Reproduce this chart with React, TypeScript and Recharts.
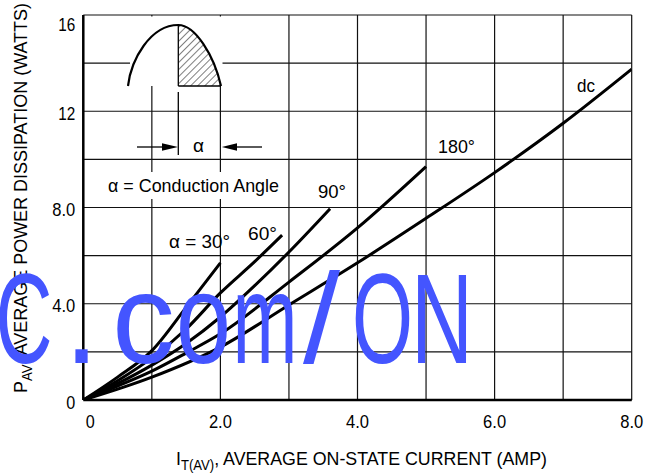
import React from "react";
import { LineChart, Line, XAxis, YAxis, CartesianGrid } from "recharts";

const xTicks = [0, 1, 2, 3, 4, 5, 6, 7, 8];
const yTicks = [0, 2, 4, 6, 8, 10, 12, 14, 16];
const xTickText: Record<number, string> = { 0: "0", 2: "2.0", 4: "4.0", 6: "6.0", 8: "8.0" };
const yTickText: Record<number, string> = { 0: "0", 4: "4.0", 8: "8.0", 12: "12", 16: "16" };

// average current (A) / average power (W)
const current30 = [0, 0.5, 1.0, 1.5, 2.0];
const power30 = [0, 0.95, 2.05, 3.85, 5.7];

const current60 = [0, 0.5, 1.0, 1.5, 2.0, 2.5, 2.9];
const power60 = [0, 0.8, 1.75, 2.95, 4.45, 5.75, 6.85];

const current90 = [0, 0.5, 1.0, 1.5, 2.0, 2.5, 3.0, 3.6];
const power90 = [0, 0.68, 1.45, 2.35, 3.45, 4.75, 6.15, 7.95];

const current180 = [0, 0.5, 1.0, 1.5, 2.0, 3.0, 4.0, 5.0];
const power180 = [0, 0.58, 1.2, 1.95, 2.75, 4.9, 7.15, 9.7];

const currentDc = [0, 1, 2, 3, 4, 5, 6, 7, 8];
const powerDc = [0, 0.95, 2.2, 3.95, 5.7, 7.55, 9.45, 11.5, 13.75];

const toPoints = (xs: number[], ys: number[]) => xs.map((x, i) => ({ current: x, power: ys[i] }));

const series = [
  { name: "30", data: toPoints(current30, power30) },
  { name: "60", data: toPoints(current60, power60) },
  { name: "90", data: toPoints(current90, power90) },
  { name: "180", data: toPoints(current180, power180) },
  { name: "dc", data: toPoints(currentDc, powerDc) },
];

// watermark glyphs: [char, centre x, squeezed width]
const markGlyphs: [string, number, number | null][] = [
  ["C", 24, 57],
  [".", 81.5, null],
  ["c", 143.5, 63],
  ["o", 203.5, 55],
  ["m", 265, 65],
  ["/", 321.5, 37],
  ["O", 382.5, 61],
  ["N", 442, 62],
];

// narrow Helvetica look: Liberation Sans squeezed with textLength
const FONT = "'Liberation Sans', Arial, sans-serif";

const tickWidth = (label: string) => (label.length === 1 ? 9 : label.length === 2 ? 17 : 23);

const XTick = ({ x, y, payload }: any) => {
  const label = xTickText[payload.value];
  if (label === undefined) return null;
  return (
    <text
      x={x + (payload.value === 0 ? 7 : 0)}
      y={y + 28}
      textAnchor="middle"
      fontSize={19}
      fontFamily={FONT}
      fill="#000"
      textLength={tickWidth(label)}
      lengthAdjust="spacingAndGlyphs"
    >
      {label}
    </text>
  );
};

const YTick = ({ x, y, payload }: any) => {
  const label = yTickText[payload.value];
  if (label === undefined) return null;
  return (
    <text
      x={x}
      y={y + 8.5 + (payload.value === 16 ? 7 : 0)}
      textAnchor="end"
      fontSize={19}
      fontFamily={FONT}
      fill="#000"
      textLength={tickWidth(label)}
      lengthAdjust="spacingAndGlyphs"
    >
      {label}
    </text>
  );
};

const Note = ({ x, y, w, children }: any) => (
  <text x={x} y={y} textAnchor="middle" fontSize={19} textLength={w} lengthAdjust="spacingAndGlyphs">
    {children}
  </text>
);

export default function App() {
  return (
    <div style={{ position: "absolute", left: 0, top: 0, width: 656, height: 475, background: "#fff" }}>
      <LineChart width={656} height={475} margin={{ top: 15, right: 24.3, bottom: 0, left: 0 }}>
        <CartesianGrid stroke="#111" strokeWidth={1.2} />
        <XAxis
          type="number"
          dataKey="current"
          domain={[0, 8]}
          ticks={xTicks}
          interval={0}
          allowDataOverflow
          height={75}
          tickSize={0}
          tickMargin={0}
          tickLine={false}
          axisLine={{ stroke: "#000", strokeWidth: 2.5 }}
          tick={<XTick />}
        />
        <YAxis
          type="number"
          dataKey="power"
          domain={[0, 16]}
          ticks={yTicks}
          interval={0}
          allowDataOverflow
          width={83.3}
          tickSize={0}
          tickMargin={8}
          tickLine={false}
          axisLine={{ stroke: "#000", strokeWidth: 2.5 }}
          tick={<YTick />}
        />
        {series.map((s) => (
          <Line
            key={s.name}
            data={s.data}
            dataKey="power"
            type="monotone"
            stroke="#000"
            strokeWidth={3}
            dot={false}
            isAnimationActive={false}
          />
        ))}
      </LineChart>

      <svg
        width={656}
        height={475}
        style={{ position: "absolute", left: 0, top: 0, pointerEvents: "none" }}
        fontFamily={FONT}
      >
        <defs>
          <pattern id="hatch" width={5} height={5} patternUnits="userSpaceOnUse" patternTransform="rotate(45)">
            <line x1={0} y1={0} x2={0} y2={5} stroke="#000" strokeWidth={1} />
          </pattern>
        </defs>

        {/* inset: conduction angle sketch */}
        <rect x={130} y={16.5} width={92.5} height={69.5} fill="#fff" />
        <path d="M178.3,25 C195,25 214,55 221,86 L178.3,86 Z" fill="url(#hatch)" />
        <path d="M128,86 C131,60 150,25 178.3,25 C195,25 214,55 221,86" fill="none" stroke="#000" strokeWidth={2.2} />
        <line x1={178.3} y1={25} x2={178.3} y2={86} stroke="#000" strokeWidth={1.3} />
        <line x1={178.3} y1={86} x2={221} y2={86} stroke="#000" strokeWidth={1.3} />
        <line x1={178.3} y1={92} x2={178.3} y2={155} stroke="#000" strokeWidth={1.3} />
        <line x1={137} y1={147} x2={165} y2={147} stroke="#000" strokeWidth={1.3} />
        <polygon points="162,143.3 178,147 162,150.7" fill="#000" />
        <line x1={236} y1={147} x2={262} y2={147} stroke="#000" strokeWidth={1.3} />
        <polygon points="237,143.3 221.8,147 237,150.7" fill="#000" />
        <Note x={198.5} y={151.7} w={11}>α</Note>

        <rect x={104} y={172} width={180} height={27} fill="#fff" />
        <Note x={193.5} y={191.7} w={171}>α = Conduction Angle</Note>

        {/* curve labels */}
        <Note x={199.5} y={248} w={61}>α = 30°</Note>
        <Note x={262.5} y={240} w={29}>60°</Note>
        <Note x={332} y={198} w={28}>90°</Note>
        <Note x={456.5} y={152.5} w={37}>180°</Note>
        <Note x={586} y={91.7} w={18}>dc</Note>

        {/* axis titles */}
        <text x={361.5} y={465} textAnchor="middle" fontSize={19} textLength={371} lengthAdjust="spacingAndGlyphs">
          I<tspan dy={5} fontSize={14}>T(AV)</tspan>
          <tspan dy={-5}>, AVERAGE ON-STATE CURRENT (AMP)</tspan>
        </text>
        <text
          transform="translate(27,198) rotate(-90)"
          textAnchor="middle"
          fontSize={19}
          textLength={390}
          lengthAdjust="spacingAndGlyphs"
        >
          P<tspan dy={5} fontSize={14}>AV</tspan>
          <tspan dy={-5}>, AVERAGE POWER DISSIPATION (WATTS)</tspan>
        </text>

        {/* watermark */}
        <g fontFamily="'Liberation Sans', Arial, sans-serif" fontSize={128} fill="#4455ff">
          {markGlyphs.map(([ch, cx, w], i) =>
            w === null ? (
              <text key={i} x={cx} y={363} textAnchor="middle">{ch}</text>
            ) : (
              <text key={i} x={cx} y={363} textAnchor="middle" textLength={w} lengthAdjust="spacingAndGlyphs">
                {ch}
              </text>
            )
          )}
        </g>
      </svg>
    </div>
  );
}
